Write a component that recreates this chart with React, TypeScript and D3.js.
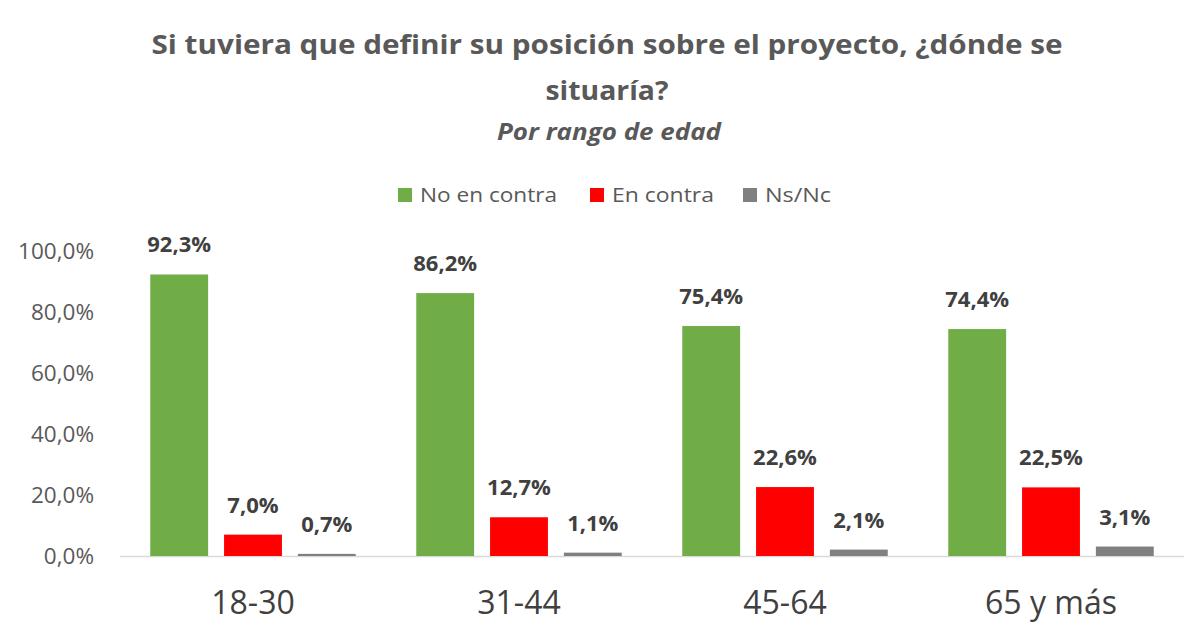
import React from "react";
import * as d3 from "d3";

const categories = ["18-30", "31-44", "45-64", "65 y más"];
const seriesNames = ["No en contra", "En contra", "Ns/Nc"];
const noEnContra = [92.3, 86.2, 75.4, 74.4];
const enContra = [7.0, 12.7, 22.6, 22.5];
const nsNc = [0.7, 1.1, 2.1, 3.1];
const colors = ["#70AD47", "#FF0000", "#808080"];
const yTicks = [0, 20, 40, 60, 80, 100];

const W = 1200;
const H = 636;
const FONT = "'Open Sans', sans-serif";

export default function App() {
  const series = [noEnContra, enContra, nsNc];
  const x0 = d3.scaleBand<string>().domain(categories).range([120, 1184]).paddingInner(0).paddingOuter(0);
  const x1 = d3
    .scaleBand<string>()
    .domain(seriesNames)
    .range([0, x0.bandwidth()])
    .paddingInner(0.216)
    .paddingOuter(0.41);
  const y = d3.scaleLinear().domain([0, 100]).range([556, 251]);
  const fmt = (v: number) => v.toFixed(1).replace(".", ",") + "%";

  const legendItems = [
    { name: seriesNames[0], x: 398, len: 137 },
    { name: seriesNames[1], x: 590, len: 102 },
    { name: seriesNames[2], x: 743, len: 66 },
  ];

  return (
    <svg width={W} height={H} style={{ position: "absolute", left: 0, top: 0, background: "#fff" }} fontFamily={FONT}>
      <rect width={W} height={H} fill="#fff" />
      <text x={607} y={54} textAnchor="middle" fontSize={27} fontWeight="bold" fill="#595959" textLength={911} lengthAdjust="spacingAndGlyphs">
        Si tuviera que definir su posición sobre el proyecto, ¿dónde se
      </text>
      <text x={607} y={100} textAnchor="middle" fontSize={27} fontWeight="bold" fill="#595959" textLength={123} lengthAdjust="spacingAndGlyphs">
        situaría?
      </text>
      <text x={609} y={140} textAnchor="middle" fontSize={23} fontWeight="bold" fontStyle="italic" fill="#595959" textLength={224} lengthAdjust="spacingAndGlyphs">
        Por rango de edad
      </text>

      {legendItems.map((it, i) => (
        <g key={it.name}>
          <rect x={it.x} y={188} width={14} height={14} fill={colors[i]} />
          <text x={it.x + 22} y={202} fontSize={20} fill="#595959" textLength={it.len} lengthAdjust="spacingAndGlyphs">
            {it.name}
          </text>
        </g>
      ))}

      {yTicks.map((t) => (
        <text key={t} x={94} y={y(t) + 8} textAnchor="end" fontSize={22.5} fill="#595959">
          {fmt(t)}
        </text>
      ))}

      <line x1={120} x2={1184} y1={y(0) + 0.5} y2={y(0) + 0.5} stroke="#D9D9D9" strokeWidth={1.5} />

      {categories.map((c, ci) => (
        <g key={c} transform={`translate(${x0(c)},0)`}>
          {series.map((s, si) => {
            const bx = x1(seriesNames[si])!;
            const v = s[ci];
            return (
              <g key={si}>
                <rect x={bx} y={y(v)} width={x1.bandwidth()} height={y(0) - y(v)} fill={colors[si]} />
                <text
                  x={bx + x1.bandwidth() / 2}
                  y={y(v) - 22}
                  textAnchor="middle"
                  fontSize={22}
                  fontWeight="bold"
                  fill="#404040"
                >
                  {fmt(v)}
                </text>
              </g>
            );
          })}
          <text
            x={x0.bandwidth() / 2}
            y={614}
            textAnchor="middle"
            fontSize={32}
            fill="#404040"
          >
            {c}
          </text>
        </g>
      ))}
    </svg>
  );
}
